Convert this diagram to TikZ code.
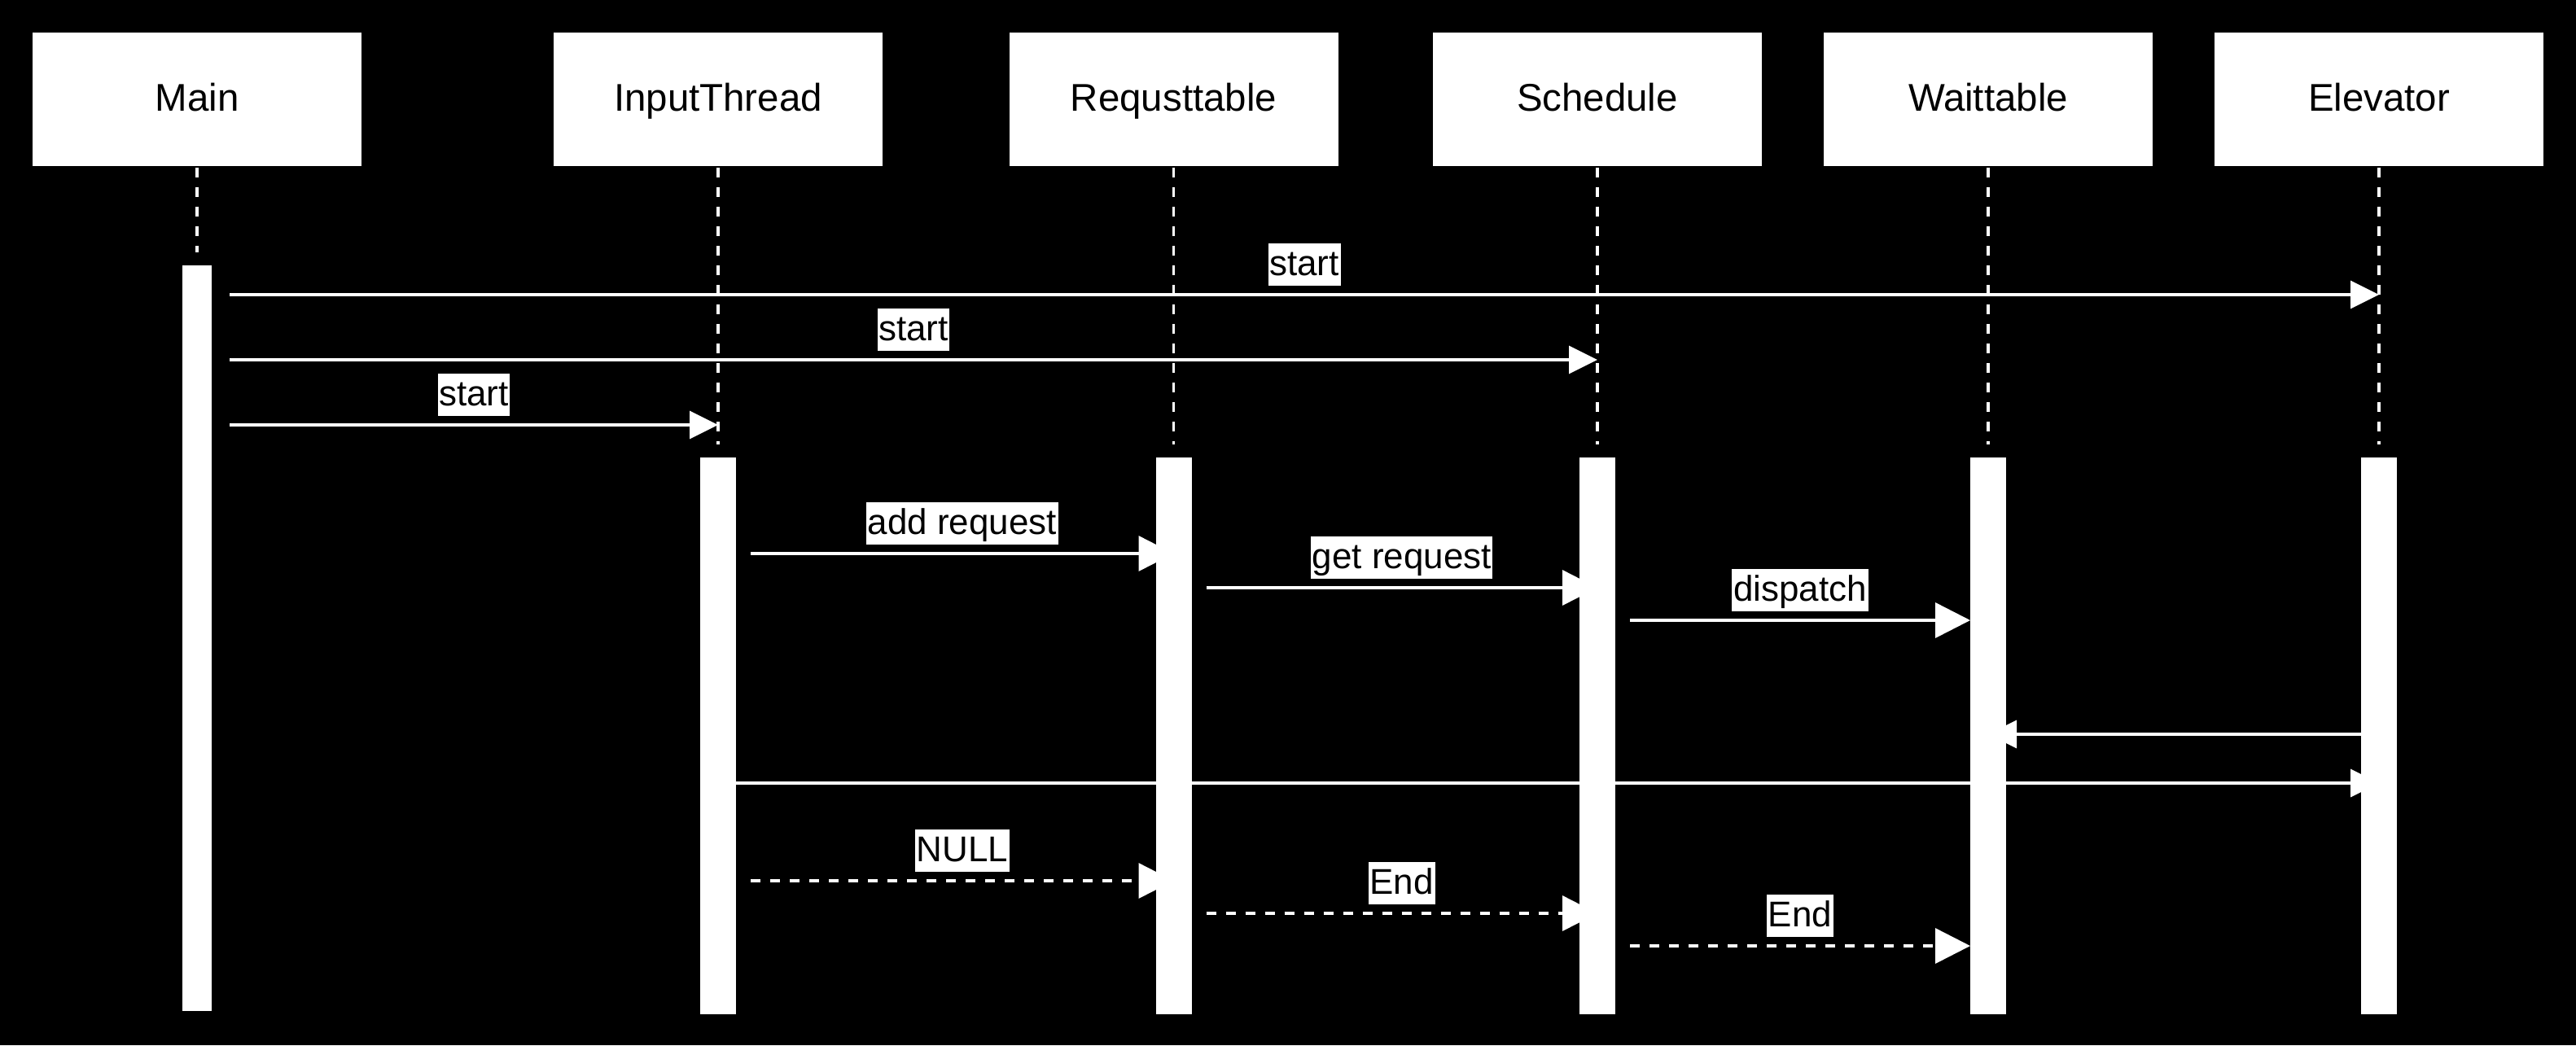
\documentclass[tikz,border=0pt]{standalone}
\usepackage{fontspec}
\setmainfont{Liberation Sans}
\usetikzlibrary{arrows.meta}
\definecolor{ink}{HTML}{000000}
\definecolor{paper}{HTML}{FFFFFF}

\begin{document}
\begin{tikzpicture}[line width=1pt,
  head/.style={fill=paper,text=ink,minimum width=4.04cm,minimum height=1.64cm,inner sep=0pt,
    text height=10.5pt,text depth=2.5pt,font=\fontsize{13.5}{16}\selectfont},
  act/.style={fill=paper,minimum width=0.44cm,inner sep=0pt,anchor=north},
  life/.style={paper,dash pattern=on 0.12cm off 0.12cm},
  msg/.style={paper,-{Triangle[length=0.35cm,width=0.34cm]}},
  bigmsg/.style={paper,-{Triangle[length=0.43cm,width=0.43cm]}},
  reply/.style={bigmsg,dash pattern=on 0.12cm off 0.12cm},
  lbl/.style={midway,above=0.09cm,fill=paper,text=ink,inner xsep=0.5pt,inner ysep=0.7pt,
    text height=10.4pt,text depth=3pt,font=\fontsize{12.5}{15}\selectfont}]
 \fill[ink] (0,0) rectangle (31.64,-12.84);
 \node[head] (Main) at (2.42,-1.22) {Main};
 \node[head] (InThr) at (8.82,-1.22) {InputThread};
 \node[head] (ReqT) at (14.415,-1.22) {Requsttable};
 \node[head] (Sched) at (19.62,-1.22) {Schedule};
 \node[head] (Wait) at (24.42,-1.22) {Waittable};
 \node[head] (Elev) at (29.22,-1.22) {Elevator};
 \coordinate (r1) at (0,-3.62);
 \coordinate (r2) at (0,-4.42);
 \coordinate (r3) at (0,-5.22);
 \coordinate (r4) at (0,-6.80);
 \coordinate (r5) at (0,-7.22);
 \coordinate (r6) at (0,-7.62);
 \coordinate (r7) at (0,-9.02);
 \coordinate (r8) at (0,-9.62);
 \coordinate (r9) at (0,-10.82);
 \coordinate (r10) at (0,-11.22);
 \coordinate (r11) at (0,-11.62);
 \draw[msg] ([xshift=0.4cm]Main |- r1) -- (Elev |- r1) node[lbl] {start};
 \draw[msg] ([xshift=0.4cm]Main |- r2) -- (Sched |- r2) node[lbl] {start};
 \draw[msg] ([xshift=0.4cm]Main |- r3) -- (InThr |- r3) node[lbl] {start};
 \draw[bigmsg] ([xshift=0.4cm]InThr |- r4) -- (ReqT |- r4) node[lbl] {add request};
 \draw[bigmsg] ([xshift=0.4cm]ReqT |- r5) -- (Sched |- r5) node[lbl] {get request};
 \draw[bigmsg] ([xshift=0.4cm]Sched |- r6) -- ([xshift=-0.22cm]Wait |- r6) node[lbl] {dispatch};
 \draw[msg] ([xshift=-0.22cm]Elev |- r7) -- (Wait |- r7);
 \draw[msg] ([xshift=0.22cm]InThr |- r8) -- (Elev |- r8);
 \draw[reply] ([xshift=0.4cm]InThr |- r9) -- (ReqT |- r9) node[lbl] {NULL};
 \draw[reply] ([xshift=0.4cm]ReqT |- r10) -- (Sched |- r10) node[lbl] {End};
 \draw[reply] ([xshift=0.4cm]Sched |- r11) -- ([xshift=-0.22cm]Wait |- r11) node[lbl] {End};
 \node[act,minimum width=0.36cm,minimum height=9.16cm] (aMain) at (2.42,-3.24) {};
 \node[act,minimum height=6.84cm] (aInThr) at (8.82,-5.60) {};
 \node[act,minimum height=6.84cm] (aReqT) at (14.415,-5.60) {};
 \node[act,minimum height=6.84cm] (aSched) at (19.62,-5.60) {};
 \node[act,minimum height=6.84cm] (aWait) at (24.42,-5.60) {};
 \node[act,minimum height=6.84cm] (aElev) at (29.22,-5.60) {};
 \foreach \who in {Main,InThr,ReqT,Sched,Wait,Elev}
  \draw[life] (\who.south) -- ([yshift=0.14cm]a\who.north);
\end{tikzpicture}
\end{document}
